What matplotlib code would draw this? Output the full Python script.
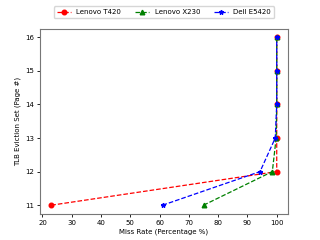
import matplotlib
matplotlib.use("Agg")
import matplotlib.pyplot as plt

# eviction set sizes (pages)
pages = [11, 12, 13, 14, 15, 16]

t420 = [23.0, 100.0, 100.0, 100.0, 100.0, 100.0]
x230 = [75.0, 98.5, 99.8, 100.0, 100.0, 100.0]
e5420 = [61.0, 94.3, 99.5, 100.0, 100.0, 100.0]

plt.rcParams['font.size'] = 5

fig, ax = plt.subplots(figsize=(3.2, 2.4), dpi=100)
fig.subplots_adjust(left=0.125, right=0.9, bottom=0.11, top=0.88)

ax.plot(t420, pages, 'r--o', label="Lenovo T420", markersize=3.3, linewidth=0.9)
ax.plot(x230, pages, 'g--^', label="Lenovo X230", markersize=3.3, linewidth=0.9)
ax.plot(e5420, pages, 'b--*', label="Dell E5420", markersize=3.3, linewidth=0.9)

ax.set_xlabel("Miss Rate (Percentage %)", fontsize=5, labelpad=2)
ax.set_ylabel("TLB Eviction Set (Page #)", fontsize=5, labelpad=3)
ax.set_xticks([20, 30, 40, 50, 60, 70, 80, 90, 100])
ax.set_yticks(pages)
ax.tick_params(labelsize=5, length=2.5, width=0.6, pad=2)
for s in ax.spines.values():
    s.set_color('#777777')

ax.legend(loc='lower center', bbox_to_anchor=(0.5, 1.04), ncol=3, fontsize=5,
          frameon=True, handlelength=2.0, columnspacing=2.0)

plt.savefig("out.png", dpi=100)
